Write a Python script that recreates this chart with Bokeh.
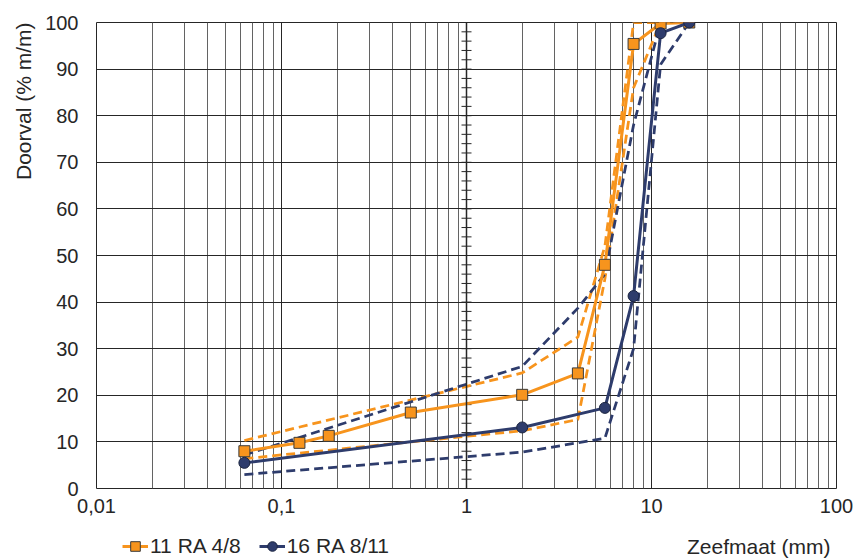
import math
from bokeh.plotting import figure
from bokeh.layouts import column
from bokeh.models import (FixedTicker, CustomJSTickFormatter, Span, Label, Legend,
                          LegendItem, Range1d, Title)
from bokeh.embed import file_html
from bokeh.resources import INLINE

# ---- data ----
sieve_a = [0.063, 0.125, 0.18, 0.5, 2, 4, 5.6, 8, 11.2, 16]
pass_a = [8.0, 9.8, 11.3, 16.3, 20.1, 24.7, 48.0, 95.4, 99.8, 100]

sieve_b = [0.063, 2, 5.6, 8, 11.2, 16]
pass_b = [5.5, 13.1, 17.3, 41.3, 97.7, 100]

sieve_a_upper = [0.063, 2, 4, 5.6, 8, 11.2, 16]
a_upper = [10.3, 24.8, 32.5, 52, 100, 100, 100]
sieve_a_lower = [0.063, 2, 4, 5.6, 8, 11.2, 16]
a_lower = [6.4, 12.4, 14.8, 45, 86, 100, 100]

sieve_b_upper = [0.063, 2, 4, 5.6, 8, 11.2, 16]
b_upper = [7.2, 26.2, 38.7, 46, 78, 100, 100]
sieve_b_lower = [0.063, 2, 5.6, 8, 11.2, 16]
b_lower = [3.0, 7.8, 10.8, 30, 91, 100]

name_a = "11 RA 4/8"
name_b = "16 RA 8/11"
x_title = "Zeefmaat (mm)"
y_title = "Doorval (% m/m)"

x_ticks = [0.01, 0.1, 1, 10, 100]
y_ticks = list(range(0, 101, 10))
y_minor_marks = list(range(0, 101, 2))

ORANGE = "#F7941D"
NAVY = "#2E3C6C"
DARK = "#262626"
FONT = "Liberation Sans"

x_minor = [m * d for d in x_ticks[:-1] for m in range(2, 10)]

W = 857
H_MAIN = 528
H_FOOT = 30
B_LEFT, B_RIGHT = 96, 21
FRAME_W = W - B_LEFT - B_RIGHT

p = figure(width=W, height=H_MAIN, x_axis_type="log",
           x_range=Range1d(0.01, 100), y_range=Range1d(0, 100),
           output_backend="svg", toolbar_location=None,
           min_border_left=B_LEFT, min_border_right=B_RIGHT, min_border_top=22,
           min_border_bottom=40)
p.border_fill_color = None

p.xaxis.ticker = FixedTicker(ticks=x_ticks, minor_ticks=x_minor)
p.yaxis.ticker = FixedTicker(ticks=y_ticks)
p.xaxis.formatter = CustomJSTickFormatter(code="return tick.toString().replace('.', ',');")

for ax in (p.xaxis[0], p.yaxis[0]):
    ax.axis_line_color = None
    ax.major_tick_line_color = None
    ax.minor_tick_line_color = None
    ax.major_tick_out = 0
    ax.major_tick_in = 0
    ax.minor_tick_out = 0
    ax.minor_tick_in = 0
    ax.major_label_text_font = FONT
    ax.major_label_text_font_size = "20px"
    ax.major_label_text_color = DARK
p.xaxis.major_label_standoff = 10
p.yaxis.major_label_standoff = 18

p.xgrid.grid_line_color = DARK
p.xgrid.minor_grid_line_color = "#636363"
p.ygrid.grid_line_color = DARK
p.outline_line_color = DARK

# vertical axis crossing at x = 1 with cross tick marks
p.add_layout(Span(location=1, dimension="height", line_color=DARK, line_width=1.5))
p.scatter(x=[1] * len(y_minor_marks), y=y_minor_marks, marker="dash", size=10,
          line_color=DARK, line_width=1)

# envelopes (dashed)
DASH = "9 5"
p.line(sieve_a_upper, a_upper, line_color=ORANGE, line_width=2.75, line_dash=DASH)
p.line(sieve_a_lower, a_lower, line_color=ORANGE, line_width=2.75, line_dash=DASH)
p.line(sieve_b_upper, b_upper, line_color=NAVY, line_width=2.75, line_dash=DASH)
p.line(sieve_b_lower, b_lower, line_color=NAVY, line_width=2.75, line_dash=DASH)

# measured curves
p.line(sieve_a, pass_a, line_color=ORANGE, line_width=3)
p.scatter(sieve_a, pass_a, marker="square", size=11, fill_color=ORANGE,
          line_color="#3a3a3a", line_width=1)
p.line(sieve_b, pass_b, line_color=NAVY, line_width=3)
p.scatter(sieve_b, pass_b, marker="circle", size=11, fill_color=NAVY,
          line_color="#1c2540", line_width=1)

# y axis title in the left panel, aligned to the top
p.add_layout(Title(text=y_title, align="right", text_font=FONT,
                   text_font_size="21px", text_font_style="normal",
                   text_color=DARK, standoff=16), "left")

# ---- footer strip: legend + x axis title (frame aligned with the main frame) ----
f = figure(width=W, height=H_FOOT, x_range=Range1d(0, FRAME_W), y_range=Range1d(0, H_FOOT),
           output_backend="svg", toolbar_location=None,
           x_axis_type=None, y_axis_type=None,
           min_border_left=B_LEFT, min_border_right=B_RIGHT,
           min_border_top=0, min_border_bottom=0)
f.grid.visible = False
f.outline_line_color = None
f.border_fill_color = None
f.background_fill_color = None

nan = float("nan")
ka_l = f.line(x=[nan], y=[nan], line_color=ORANGE, line_width=3)
ka_s = f.scatter(x=[nan], y=[nan], marker="square", fill_color=ORANGE,
                 line_color="#3a3a3a", line_width=1)
kb_l = f.line(x=[nan], y=[nan], line_color=NAVY, line_width=3)
kb_s = f.scatter(x=[nan], y=[nan], marker="circle", fill_color=NAVY,
                 line_color="#1c2540", line_width=1)

legend = Legend(items=[LegendItem(label=name_a, renderers=[ka_l, ka_s]),
                       LegendItem(label=name_b, renderers=[kb_l, kb_s])],
                location=(26, 0), orientation="horizontal",
                label_text_font=FONT, label_text_font_size="21px",
                label_text_color=DARK, glyph_width=26, glyph_height=24,
                label_standoff=2, spacing=18, padding=0, margin=0,
                border_line_color=None, background_fill_alpha=0)
f.add_layout(legend)

f.add_layout(Label(x=734, y=12, x_units="screen", y_units="screen",
                   text=x_title, text_align="right", text_baseline="middle",
                   text_font=FONT, text_font_size="21px", text_color=DARK))

layout = column(p, f, spacing=0)
open("out.html", "w").write(file_html(layout, INLINE))
